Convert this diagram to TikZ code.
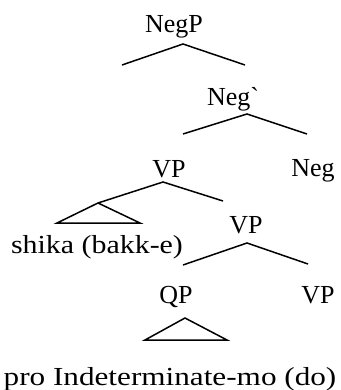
\documentclass[tikz,border=0pt]{standalone}
\usepackage{fontspec}
\setmainfont{Liberation Serif}
\begin{document}
\begin{tikzpicture}[x=1pt,y=-1pt,
  lab/.style={anchor=base,inner sep=0pt,font=\fontsize{26}{30}\selectfont},
  br/.style={line width=1.5pt}]
\useasboundingbox (0,0) rectangle (340,390);
\node[lab] (negp) at (174,33) {NegP};
\node[lab] (negbar) at (233,106) {Neg\textasciigrave};
\node[lab] (vp1) at (169,177) {VP};
\node[lab] (neg) at (313,176) {Neg};
\node[lab] (shika) at (97,253) {\scalebox{1.15}[1]{shika (bakk-e)}};
\node[lab] (vp2) at (246,233) {VP};
\node[lab] (qp) at (176,303) {QP};
\node[lab] (vp3) at (318,303) {VP};
\node[lab] (pro) at (170,385) {\scalebox{1.2}[1]{pro Indeterminate-mo (do)}};
% branch points
\coordinate (a1) at (183,44); \coordinate (l1) at (122,65); \coordinate (r1) at (245,65);
\coordinate (a2) at (247,114); \coordinate (l2) at (183,134); \coordinate (r2) at (307,134);
\coordinate (a3) at (163,182); \coordinate (t1) at (98,203); \coordinate (r3) at (223,201);
\coordinate (t1l) at (57,223); \coordinate (t1r) at (140,223);
\coordinate (a4) at (247,243); \coordinate (l4) at (183,265); \coordinate (r4) at (308,264);
\coordinate (t2) at (185,318); \coordinate (t2l) at (145,340); \coordinate (t2r) at (227,340);
\draw[br] (l1) -- (a1) -- (r1);
\draw[br] (l2) -- (a2) -- (r2);
\draw[br] (t1) -- (a3) -- (r3);
\draw[br] (t1) -- (t1l) -- (t1r) -- cycle;
\draw[br] (l4) -- (a4) -- (r4);
\draw[br] (t2) -- (t2l) -- (t2r) -- cycle;
\end{tikzpicture}
\end{document}
